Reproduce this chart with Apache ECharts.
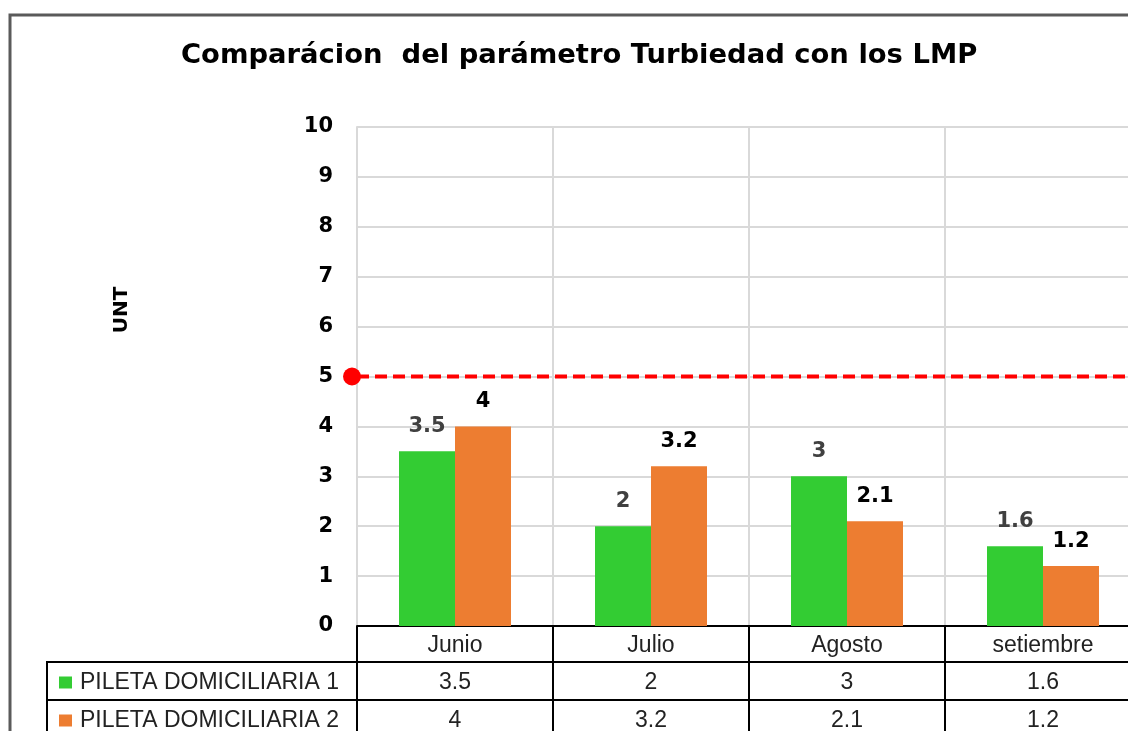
<!DOCTYPE html>
<html>
<head>
<meta charset="utf-8">
<script src="https://cdn.jsdelivr.net/npm/echarts@6/dist/echarts.min.js"></script>
<style>
  html, body { margin: 0; padding: 0; background: #fff; }
  #chart { width: 1128px; height: 731px; }
</style>
</head>
<body>
<div id="chart"></div>
<script>
// datos del grafico
const meses = ['Junio', 'Julio', 'Agosto', 'setiembre']
const pileta1 = [3.5, 2, 3, 1.6]
const pileta2 = [4, 3.2, 2.1, 1.2]
const lmp = [[0, 5], [4, 5]]
const nombres = ['PILETA DOMICILIARIA 1', 'PILETA DOMICILIARIA 2']

const tablaFont = 'Liberation Sans'
const boldFont = 'DejaVu Sans'

// eje de la tabla (una fila por eje)
function filaTabla(offset, fmt) {
  return {
    type: 'category',
    data: meses,
    position: 'bottom',
    offset: offset,
    axisLine: { show: true, lineStyle: { color: '#000', width: 2 } },
    axisTick: { show: true, interval: 0, length: offset === 0 ? 36 : 38, lineStyle: { color: '#000', width: 2 } },
    axisLabel: {
      interval: 0,
      margin: offset === 0 ? 9 : 10,
      fontFamily: tablaFont,
      fontSize: 23,
      lineHeight: 22,
      color: '#222',
      formatter: fmt
    },
    splitLine: { show: offset === 0, interval: 0, lineStyle: { color: '#d9d9d9', width: 2 } }
  }
}

function leyenda(nombre, top) {
  return {
    data: [nombre],
    left: 54,
    top: top,
    itemWidth: 13,
    itemHeight: 12,
    itemGap: 9,
    icon: 'rect',
    textStyle: { fontFamily: tablaFont, fontSize: 23, lineHeight: 22, color: '#222', padding: [0, 0, 0, 3] }
  }
}

const options = {
  animation: false,
  title: {
    text: 'Comparácion  del parámetro Turbiedad con los LMP',
    left: 176,
    top: 37,
    textStyle: { fontFamily: boldFont, fontWeight: 'bold', fontSize: 27.4, color: '#000' }
  },
  legend: [leyenda(nombres[0], 666), leyenda(nombres[1], 704)],
  grid: { left: 357, top: 127, right: -13, bottom: 105, outerBoundsMode: 'none' },
  xAxis: [
    filaTabla(0, v => v),
    filaTabla(36, (v, i) => String(pileta1[i])),
    filaTabla(74, (v, i) => String(pileta2[i])),
    { type: 'value', min: 0, max: 4, show: false }
  ],
  yAxis: {
    type: 'value',
    min: 0,
    max: 10,
    interval: 1,
    axisLine: { show: true, lineStyle: { color: '#d9d9d9', width: 2 } },
    axisTick: { show: false },
    axisLabel: { margin: 24, fontFamily: boldFont, fontWeight: 'bold', fontSize: 21, color: '#000' },
    splitLine: { lineStyle: { color: '#d9d9d9', width: 2 } }
  },
  series: [
    {
      name: nombres[0],
      type: 'bar',
      data: pileta1,
      barWidth: 56,
      barGap: '0%',
      itemStyle: { color: '#33cc33' },
      label: { show: true, position: 'top', distance: 14, fontFamily: boldFont, fontWeight: 'bold', fontSize: 21, color: '#404040' }
    },
    {
      name: nombres[1],
      type: 'bar',
      data: pileta2,
      barWidth: 56,
      itemStyle: { color: '#ed7d31' },
      label: { show: true, position: 'top', distance: 14, fontFamily: boldFont, fontWeight: 'bold', fontSize: 21, color: '#000' }
    },
    {
      name: 'LMP',
      type: 'line',
      xAxisIndex: 3,
      data: lmp,
      symbol: 'circle',
      symbolSize: (v, p) => p.dataIndex === 0 ? 18 : 0,
      symbolOffset: [-5, 0],
      itemStyle: { color: '#ff0000' },
      lineStyle: { color: '#ff0000', width: 4, type: [12, 6] },
      z: 5
    }
  ],
  graphic: [
    // marco del grafico
    { type: 'rect', shape: { x: 10, y: 15, width: 1300, height: 900 }, style: { fill: 'none', stroke: '#5a5a5a', lineWidth: 3 }, silent: true },
    // parte izquierda de la tabla
    { type: 'line', shape: { x1: 46, y1: 662, x2: 358, y2: 662 }, style: { stroke: '#000', lineWidth: 2 } },
    { type: 'line', shape: { x1: 46, y1: 700, x2: 358, y2: 700 }, style: { stroke: '#000', lineWidth: 2 } },
    { type: 'line', shape: { x1: 47, y1: 661, x2: 47, y2: 740 }, style: { stroke: '#000', lineWidth: 2 } },
    // titulo del eje
    { type: 'text', x: 122, y: 310, rotation: Math.PI / 2, style: { text: 'UNT', font: 'bold 20px "DejaVu Sans"', fill: '#000', align: 'center', verticalAlign: 'middle' } }
  ]
}

const chart = echarts.init(document.getElementById('chart'))
chart.setOption(options)
window.addEventListener('resize', () => {
  chart.resize()
})
</script>
</body>
</html>
